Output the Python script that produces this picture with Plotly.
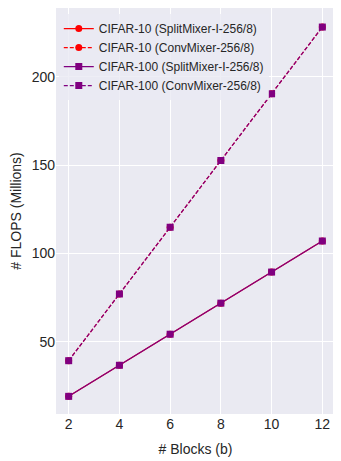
import plotly.graph_objects as go

blocks = [2, 4, 6, 8, 10, 12]
splitmixer_flops = [19.0, 36.6, 54.2, 71.8, 89.4, 107.0]
convmixer_flops = [39.2, 77.0, 114.8, 152.6, 190.4, 228.2]

series = [
    ("CIFAR-10 (SplitMixer-I-256/8)", splitmixer_flops, "red", "solid", "circle"),
    ("CIFAR-10 (ConvMixer-256/8)", convmixer_flops, "red", "4px,2px", "circle"),
    ("CIFAR-100 (SplitMixer-I-256/8)", splitmixer_flops, "purple", "solid", "square"),
    ("CIFAR-100 (ConvMixer-256/8)", convmixer_flops, "purple", "4px,2px", "square"),
]

fig = go.Figure()
for name, vals, color, dash, symbol in series:
    fig.add_trace(go.Scatter(
        x=blocks, y=vals, name=name, mode="lines+markers",
        line=dict(color=color, width=1.2, dash=dash),
        marker=dict(color=color, symbol=symbol, size=7),
    ))

# page body has an 8px margin, so the figure is shrunk and shifted to compensate
fig.update_layout(
    width=333, height=453,
    paper_bgcolor="white",
    plot_bgcolor="#EAEAF2",
    font=dict(family="Liberation Sans, Arial, sans-serif", size=14, color="#262626"),
    margin=dict(l=48, r=6, t=0, b=47),
    legend=dict(
        x=0.01, y=0.985, xanchor="left", yanchor="top",
        bgcolor="rgba(234,234,242,0.8)",
        font=dict(size=12, color="#262626"),
        tracegroupgap=0, itemwidth=30,
    ),
    xaxis=dict(
        title=dict(text="# Blocks (b)", standoff=13, font=dict(size=14)),
        range=[1.5, 12.5], tickvals=blocks, automargin=False,
        showgrid=True, gridcolor="white", gridwidth=1,
        zeroline=False, showline=False, ticks="",
    ),
    yaxis=dict(
        title=dict(text="# FLOPS (Millions)", standoff=10, font=dict(size=14)),
        range=[9, 239], tickvals=[50, 100, 150, 200], automargin=False,
        showgrid=True, gridcolor="white", gridwidth=1,
        zeroline=False, showline=False, ticks="",
    ),
)

fig.write_html("out.html")
